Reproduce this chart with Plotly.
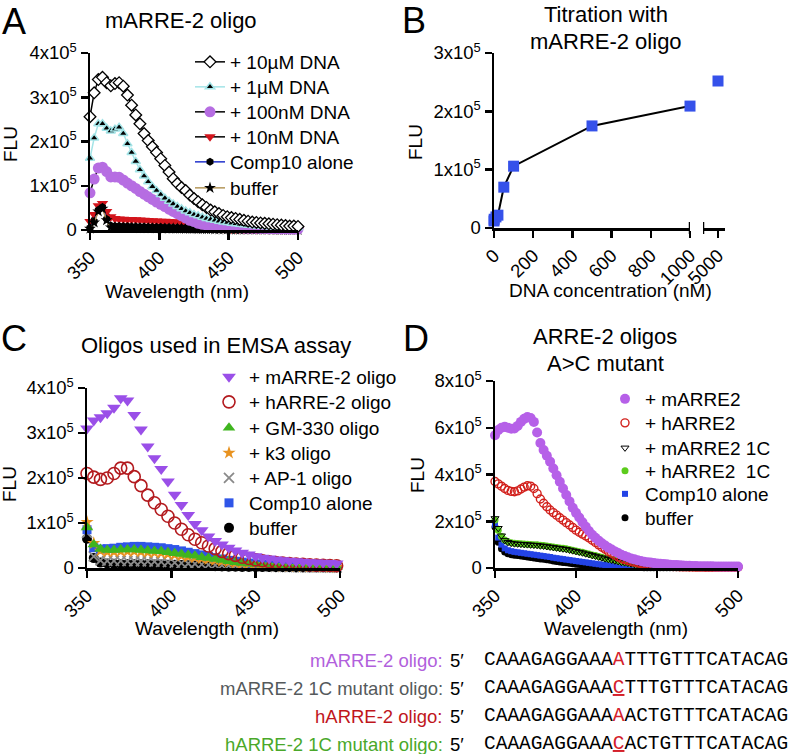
import plotly.graph_objects as go

W, H = 793, 754
FONT = "Liberation Sans, Arial, Helvetica, sans-serif"
MONO = "Liberation Mono, Courier New, Courier, monospace"

def fx(p):
    return p / W

def fy(p):
    return 1 - p / H

# ---------------- data (FLU in units of 1e5) ----------------
# Panel A: wavelength grid (nm)
WL_A = list(range(350, 501, 3))
A_10uM = [2.56, 3.10, 3.40, 3.45, 3.33, 3.26, 3.31, 3.33, 3.25, 3.05,
          2.82, 2.60, 2.40, 2.18, 2.02, 1.88, 1.75, 1.61, 1.46, 1.31,
          1.16, 1.05, 0.96, 0.89, 0.79, 0.71, 0.64, 0.57, 0.51, 0.45,
          0.41, 0.37, 0.33, 0.30, 0.28, 0.26, 0.24, 0.22, 0.20, 0.18,
          0.17, 0.16, 0.15, 0.14, 0.13, 0.12, 0.11, 0.10, 0.09, 0.09, 0.08]
A_1uM = [1.62, 2.08, 2.40, 2.40, 2.30, 2.24, 2.28, 2.32, 2.18, 1.95,
         1.75, 1.55, 1.36, 1.22, 1.09, 0.98, 0.89, 0.80, 0.72, 0.65,
         0.59, 0.53, 0.48, 0.43, 0.39, 0.35, 0.32, 0.29, 0.26, 0.24,
         0.22, 0.20, 0.18, 0.17, 0.15, 0.14, 0.13, 0.12, 0.11, 0.10,
         0.09, 0.085, 0.08, 0.075, 0.07, 0.065, 0.06, 0.06, 0.055, 0.05, 0.05]
A_100nM = [0.84, 1.15, 1.40, 1.42, 1.32, 1.20, 1.20, 1.19, 1.13, 1.06,
           1.00, 0.94, 0.87, 0.81, 0.75, 0.69, 0.63, 0.58, 0.53, 0.47,
           0.42, 0.37, 0.32, 0.27, 0.22, 0.19, 0.15, 0.13, 0.11, 0.10,
           0.09, 0.08, 0.07, 0.065, 0.06, 0.055, 0.05, 0.045, 0.04, 0.04,
           0.04, 0.035, 0.035, 0.03, 0.03, 0.03, 0.025, 0.025, 0.02, 0.02, 0.02]
A_10nM = [0.19, 0.35, 0.55, 0.60, 0.42, 0.30, 0.26, 0.25, 0.245, 0.24,
          0.235, 0.23, 0.225, 0.22, 0.215, 0.21, 0.205, 0.20, 0.195, 0.19,
          0.185, 0.18, 0.17, 0.16, 0.15, 0.13, 0.11, 0.09, 0.075, 0.06,
          0.05, 0.04, 0.035, 0.03, 0.025, 0.02, 0.02, 0.018, 0.016, 0.015,
          0.014, 0.013, 0.012, 0.012, 0.011, 0.011, 0.01, 0.01, 0.01, 0.01, 0.01]
A_comp10 = [0.05, 0.20, 0.45, 0.52, 0.25, 0.10, 0.09, 0.09, 0.085, 0.085,
            0.08, 0.08, 0.075, 0.075, 0.07, 0.07, 0.065, 0.065, 0.06, 0.06,
            0.055, 0.055, 0.05, 0.05, 0.045, 0.045, 0.04, 0.04, 0.035, 0.035,
            0.03, 0.03, 0.03, 0.025, 0.025, 0.025, 0.02, 0.02, 0.02, 0.02,
            0.02, 0.015, 0.015, 0.015, 0.015, 0.015, 0.01, 0.01, 0.01, 0.01, 0.01]
A_buffer = [0.03, 0.17, 0.42, 0.48, 0.22, 0.06, 0.05, 0.05, 0.05, 0.045,
            0.045, 0.045, 0.04, 0.04, 0.04, 0.04, 0.035, 0.035, 0.035, 0.03,
            0.03, 0.03, 0.03, 0.025, 0.025, 0.025, 0.02, 0.02, 0.02, 0.02,
            0.015, 0.015, 0.015, 0.015, 0.01, 0.01, 0.01, 0.01, 0.01, 0.01,
            0.01, 0.01, 0.01, 0.01, 0.005, 0.005, 0.005, 0.005, 0.005, 0.005, 0.005]

# Panel B: titration
B_conc = [0, 1, 10, 20, 50, 100, 500, 1000]
B_flu = [0.12, 0.15, 0.19, 0.22, 0.70, 1.06, 1.75, 2.09]
B_conc_hi = [5000]
B_flu_hi = [2.52]

# Panel C
WL_C = list(range(350, 499, 4))
C_mARRE = [3.10, 3.28, 3.35, 3.44, 3.56, 3.77, 3.72, 3.40, 3.08, 2.70,
           2.44, 2.20, 1.92, 1.63, 1.40, 1.18, 0.98, 0.84, 0.70, 0.60,
           0.52, 0.45, 0.39, 0.34, 0.30, 0.26, 0.23, 0.21, 0.19, 0.17,
           0.16, 0.15, 0.14, 0.13, 0.12, 0.115, 0.11, 0.10]
C_hARRE = [2.10, 2.02, 1.97, 2.00, 2.10, 2.22, 2.22, 2.03, 1.83, 1.62,
           1.45, 1.30, 1.15, 1.00, 0.86, 0.74, 0.64, 0.56, 0.49, 0.43,
           0.37, 0.32, 0.28, 0.24, 0.21, 0.18, 0.16, 0.14, 0.12, 0.11,
           0.10, 0.09, 0.08, 0.07, 0.065, 0.06, 0.055, 0.05]
C_GM330 = [0.90, 0.52, 0.42, 0.40, 0.40, 0.41, 0.41, 0.41, 0.40, 0.39,
           0.38, 0.37, 0.35, 0.33, 0.31, 0.29, 0.27, 0.24, 0.22, 0.20,
           0.18, 0.15, 0.13, 0.11, 0.10, 0.09, 0.08, 0.07, 0.06, 0.05,
           0.045, 0.04, 0.035, 0.03, 0.03, 0.025, 0.025, 0.02]
C_k3 = [1.02, 0.55, 0.38, 0.36, 0.36, 0.37, 0.37, 0.37, 0.36, 0.35,
        0.34, 0.33, 0.31, 0.29, 0.27, 0.25, 0.23, 0.21, 0.19, 0.17,
        0.15, 0.13, 0.11, 0.10, 0.09, 0.08, 0.07, 0.06, 0.05, 0.045,
        0.04, 0.035, 0.03, 0.03, 0.025, 0.025, 0.02, 0.02]
C_AP1 = [0.78, 0.26, 0.17, 0.16, 0.16, 0.16, 0.155, 0.15, 0.15, 0.145,
         0.14, 0.135, 0.13, 0.12, 0.11, 0.10, 0.09, 0.08, 0.07, 0.065,
         0.06, 0.055, 0.05, 0.045, 0.04, 0.035, 0.03, 0.03, 0.025, 0.025,
         0.02, 0.02, 0.02, 0.015, 0.015, 0.015, 0.01, 0.01]
C_comp10 = [0.85, 0.45, 0.42, 0.43, 0.44, 0.46, 0.47, 0.48, 0.48, 0.47,
            0.46, 0.45, 0.43, 0.41, 0.38, 0.35, 0.32, 0.29, 0.26, 0.23,
            0.20, 0.17, 0.15, 0.13, 0.11, 0.09, 0.08, 0.07, 0.06, 0.05,
            0.045, 0.04, 0.035, 0.03, 0.03, 0.025, 0.025, 0.02]
C_buffer = [0.65, 0.22, 0.12, 0.10, 0.095, 0.09, 0.09, 0.09, 0.085, 0.085,
            0.08, 0.08, 0.075, 0.07, 0.065, 0.06, 0.055, 0.05, 0.045, 0.04,
            0.035, 0.03, 0.03, 0.025, 0.025, 0.02, 0.02, 0.02, 0.015, 0.015,
            0.015, 0.01, 0.01, 0.01, 0.01, 0.01, 0.01, 0.01]

# Panel D
WL_D = list(range(350, 501, 2))
D_mARRE2 = [5.68, 5.90, 6.00, 6.04, 6.00, 5.96, 5.97, 6.08, 6.25, 6.38,
            6.46, 6.42, 6.25, 5.80, 5.35, 5.05, 4.80, 4.55, 4.26, 3.97,
            3.69, 3.40, 3.12, 2.85, 2.58, 2.36, 2.16, 1.96, 1.77, 1.58,
            1.42, 1.29, 1.17, 1.06, 0.96, 0.87, 0.79, 0.71, 0.64, 0.57,
            0.51, 0.46, 0.41, 0.37, 0.33, 0.30, 0.27, 0.25, 0.23, 0.21,
            0.19, 0.18, 0.17, 0.16, 0.14, 0.13, 0.125, 0.12, 0.11, 0.10,
            0.095, 0.09, 0.085, 0.08, 0.08, 0.075, 0.07, 0.07, 0.065, 0.065,
            0.06, 0.06, 0.06, 0.06, 0.06, 0.06]
D_hARRE2 = [3.70, 3.60, 3.50, 3.40, 3.32, 3.28, 3.26, 3.30, 3.38, 3.46,
            3.52, 3.50, 3.40, 3.18, 2.95, 2.77, 2.62, 2.48, 2.37, 2.26,
            2.15, 2.05, 1.94, 1.84, 1.73, 1.62, 1.53, 1.45, 1.37, 1.29,
            1.19, 1.09, 0.99, 0.89, 0.80, 0.71, 0.63, 0.55, 0.47, 0.40,
            0.36, 0.32, 0.28, 0.25, 0.22, 0.19, 0.17, 0.15, 0.13, 0.115,
            0.10, 0.09, 0.08, 0.075, 0.07, 0.065, 0.06, 0.055, 0.05, 0.05,
            0.045, 0.045, 0.04, 0.04, 0.04, 0.035, 0.035, 0.035, 0.035, 0.03,
            0.03, 0.03, 0.03, 0.03, 0.03, 0.03]
D_mARRE2_1C = [2.12, 1.70, 1.38, 1.18, 1.10, 1.06, 1.04, 1.03, 1.02, 1.01,
               1.00, 0.99, 0.98, 0.97, 0.95, 0.94, 0.92, 0.90, 0.88, 0.86,
               0.84, 0.82, 0.80, 0.77, 0.74, 0.71, 0.68, 0.65, 0.61, 0.58,
               0.54, 0.51, 0.47, 0.44, 0.40, 0.37, 0.34, 0.31, 0.28, 0.25,
               0.23, 0.21, 0.18, 0.16, 0.14, 0.12, 0.11, 0.095, 0.085, 0.075,
               0.065, 0.06, 0.055, 0.05, 0.048, 0.045, 0.043, 0.04, 0.038, 0.036,
               0.035, 0.033, 0.032, 0.03, 0.03, 0.028, 0.027, 0.026, 0.025, 0.024,
               0.023, 0.022, 0.021, 0.02, 0.02, 0.02]
D_hARRE2_1C = [2.05, 1.62, 1.35, 1.20, 1.12, 1.08, 1.06, 1.05, 1.04, 1.03,
               1.02, 1.01, 1.00, 0.99, 0.97, 0.96, 0.94, 0.92, 0.90, 0.88,
               0.86, 0.84, 0.82, 0.79, 0.76, 0.73, 0.70, 0.67, 0.63, 0.60,
               0.56, 0.53, 0.49, 0.46, 0.42, 0.39, 0.36, 0.33, 0.30, 0.27,
               0.24, 0.22, 0.19, 0.17, 0.15, 0.13, 0.12, 0.10, 0.09, 0.08,
               0.07, 0.065, 0.06, 0.055, 0.05, 0.05, 0.045, 0.045, 0.04, 0.04,
               0.04, 0.035, 0.035, 0.035, 0.03, 0.03, 0.03, 0.03, 0.03, 0.025,
               0.025, 0.025, 0.025, 0.025, 0.02, 0.02]
D_comp10 = [1.85, 1.30, 1.00, 0.84, 0.76, 0.72, 0.69, 0.67, 0.65, 0.63,
            0.61, 0.59, 0.57, 0.55, 0.53, 0.51, 0.49, 0.47, 0.44, 0.42,
            0.40, 0.38, 0.36, 0.34, 0.32, 0.30, 0.28, 0.26, 0.24, 0.22,
            0.20, 0.18, 0.16, 0.145, 0.13, 0.115, 0.10, 0.09, 0.08, 0.07,
            0.06, 0.055, 0.05, 0.045, 0.04, 0.035, 0.03, 0.03, 0.025, 0.025,
            0.02, 0.02, 0.02, 0.02, 0.02, 0.02, 0.02, 0.02, 0.02, 0.02,
            0.015, 0.015, 0.015, 0.015, 0.015, 0.015, 0.015, 0.015, 0.015, 0.015,
            0.015, 0.015, 0.015, 0.015, 0.015, 0.015]
D_buffer = [1.75, 1.10, 0.82, 0.68, 0.61, 0.57, 0.55, 0.53, 0.51, 0.49,
            0.47, 0.45, 0.43, 0.41, 0.39, 0.37, 0.35, 0.33, 0.30, 0.28,
            0.26, 0.24, 0.22, 0.20, 0.18, 0.16, 0.145, 0.13, 0.115, 0.10,
            0.09, 0.08, 0.07, 0.065, 0.06, 0.05, 0.045, 0.04, 0.035, 0.03,
            0.03, 0.025, 0.025, 0.02, 0.02, 0.02, 0.015, 0.015, 0.015, 0.015,
            0.01, 0.01, 0.01, 0.01, 0.01, 0.01, 0.01, 0.01, 0.01, 0.01,
            0.01, 0.01, 0.01, 0.01, 0.01, 0.01, 0.01, 0.01, 0.01, 0.01,
            0.01, 0.01, 0.01, 0.01, 0.01, 0.01]

# tick labels
WL_TICKS = [350, 400, 450, 500]
A_YTICKS = [0, 1, 2, 3, 4]
B_YTICKS = [0, 1, 2, 3]
B_XTICKS = [0, 200, 400, 600, 800, 1000]
D_YTICKS = [0, 2, 4, 6, 8]

def sci(v):
    return "0" if v == 0 else f"{v}x10<sup>5</sup>"

# sequences
SEQ_ROWS = [
    ("mARRE-2 oligo:", "#b160dc", "CAAAGAGGAAA", "A", "TTTGTTTCATACAG", False),
    ("mARRE-2 1C mutant oligo:", "#555a5c", "CAAAGAGGAAA", "C", "TTTGTTTCATACAG", True),
    ("hARRE-2 oligo:", "#c0161c", "CAAAGAGGAAA", "A", "ACTGTTTCATACAG", False),
    ("hARRE-2 1C mutant oligo:", "#4aa82a", "CAAAGAGGAAA", "C", "ACTGTTTCATACAG", True),
]

# ---------------- figure ----------------
fig = go.Figure()
legend_defs = {}

def legend_slot(x_text, y_center, size=19):
    n = len(legend_defs) + 1
    key = "legend" if n == 1 else f"legend{n}"
    legend_defs[key] = dict(
        x=fx(x_text - 40), y=fy(y_center), xanchor="left", yanchor="middle",
        bgcolor="rgba(0,0,0,0)", borderwidth=0,
        font=dict(family=FONT, size=size, color="black"),
        itemclick=False, itemdoubleclick=False)
    return key

# ---- Panel A ----
A_leg_x = 230
A_leg_y = [62, 87, 112, 137, 162, 188]
A_series = [
    ("+ 10nM DNA", A_10nM, "black", dict(symbol="triangle-down", size=10, color="#d3151c", line=dict(width=0)), 3),
    ("Comp10 alone", A_comp10, "#2233cc", dict(symbol="hexagon", size=8, color="black", line=dict(width=0)), 4),
    ("buffer", A_buffer, "#b4975a", dict(symbol="star", size=9, color="black", line=dict(width=0)), 5),
    ("+ 100nM DNA", A_100nM, "black", dict(symbol="circle", size=11, color="#b66de2", line=dict(width=0)), 2),
    ("+ 1µM DNA", A_1uM, "#a3e4e7", dict(symbol="triangle-up", size=8, color="black", line=dict(color="#a3e4e7", width=1.5)), 1),
    ("+ 10µM DNA", A_10uM, "black", dict(symbol="diamond", size=9, color="white", line=dict(color="black", width=1.3)), 0),
]
for name, ys, lc, mk, row in A_series:
    fig.add_trace(go.Scatter(
        x=WL_A, y=ys, name=name, mode="lines+markers",
        line=dict(color=lc, width=1.5), marker=mk, cliponaxis=False,
        xaxis="x", yaxis="y", legend=legend_slot(A_leg_x, A_leg_y[row])))

# ---- Panel B ----
fig.add_trace(go.Scatter(
    x=B_conc, y=B_flu, mode="lines+markers", showlegend=False,
    line=dict(color="black", width=2),
    marker=dict(symbol="square", size=11, color="#3551ea"),
    cliponaxis=False, xaxis="x2", yaxis="y2"))
fig.add_trace(go.Scatter(
    x=B_conc_hi, y=B_flu_hi, mode="markers", showlegend=False,
    marker=dict(symbol="square", size=11, color="#3551ea"),
    cliponaxis=False, xaxis="x3", yaxis="y2"))

# ---- Panel C ----
C_leg_x = 249
C_leg_y = [377, 402, 428, 453, 478, 503, 528]
C_series = [
    ("buffer", C_buffer, dict(symbol="circle", size=10, color="black"), 6),
    ("+ AP-1 oligo", C_AP1, dict(symbol="x-thin-open", size=10, color="#8a8a8a", line=dict(width=1.8, color="#8a8a8a")), 4),
    ("Comp10 alone", C_comp10, dict(symbol="square", size=9, color="#2f55e8"), 5),
    ("+ k3 oligo", C_k3, dict(symbol="star", size=10, color="#e8921f"), 3),
    ("+ GM-330 oligo", C_GM330, dict(symbol="triangle-up", size=11, color="#3fb51f"), 2),
    ("+ hARRE-2 oligo", C_hARRE, dict(symbol="circle-open", size=12, color="#b31a1e", line=dict(width=1.6)), 1),
    ("+ mARRE-2 oligo", C_mARRE, dict(symbol="triangle-down", size=12, color="#9a4fe8"), 0),
]
for name, ys, mk, row in C_series:
    fig.add_trace(go.Scatter(
        x=WL_C, y=ys, name=name, mode="markers", marker=mk, cliponaxis=False,
        xaxis="x4", yaxis="y3", legend=legend_slot(C_leg_x, C_leg_y[row])))

# ---- Panel D ----
D_leg_x = 645
D_leg_y = [399, 423, 448, 471, 494, 518]
D_series = [
    ("buffer", D_buffer, dict(symbol="circle", size=7, color="black"), 5),
    ("Comp10 alone", D_comp10, dict(symbol="square", size=6, color="#2343e6"), 4),
    ("+ hARRE2\u00a0 1C", D_hARRE2_1C, dict(symbol="circle", size=7, color="#5ccc1c"), 3),
    ("+ mARRE2 1C", D_mARRE2_1C, dict(symbol="triangle-down-open", size=7, color="black", line=dict(width=1)), 2),
    ("+ hARRE2", D_hARRE2, dict(symbol="circle-open", size=8, color="#d2201c", line=dict(width=1.4)), 1),
    ("+ mARRE2", D_mARRE2, dict(symbol="circle", size=10, color="#b660e8"), 0),
]
for name, ys, mk, row in D_series:
    fig.add_trace(go.Scatter(
        x=WL_D, y=ys, name=name, mode="markers", marker=mk, cliponaxis=False,
        xaxis="x5", yaxis="y4", legend=legend_slot(D_leg_x, D_leg_y[row])))

# ---------------- axes ----------------
axc = dict(showgrid=False, zeroline=False, showline=True, linecolor="black",
           linewidth=2.5, ticks="outside", ticklen=7, tickwidth=2.5,
           tickcolor="black", fixedrange=True, automargin=False,
           tickfont=dict(family=FONT, size=18.5, color="black"))

def xax(d0, d1, rng, tv, tt, anchor):
    return dict(axc, domain=[fx(d0), fx(d1)], range=rng, tickmode="array",
                tickvals=tv, ticktext=tt, tickangle=-45, anchor=anchor)

def yax(top, bottom, rng, tv, anchor):
    return dict(axc, domain=[fy(bottom), fy(top)], range=rng, tickmode="array",
                tickvals=tv, ticktext=[sci(v) for v in tv], anchor=anchor)

layout = dict(
    template="none",
    width=W, height=H, margin=dict(l=0, r=0, t=0, b=0, pad=0, autoexpand=False),
    autosize=False,
    paper_bgcolor="white", plot_bgcolor="white", showlegend=True,
    font=dict(family=FONT, size=19, color="black"),
    xaxis=xax(90, 298, [350, 500], WL_TICKS, [str(v) for v in WL_TICKS], "y"),
    yaxis=yax(53, 230, [0, 4], A_YTICKS, "x"),
    xaxis2=xax(494, 690, [0, 1000], B_XTICKS, [str(v) for v in B_XTICKS], "y2"),
    yaxis2=yax(53, 228, [0, 3], B_YTICKS, "x2"),
    xaxis3=xax(703, 725, [4318, 5318], B_conc_hi, [str(v) for v in B_conc_hi], "y2"),
    xaxis4=xax(87, 340, [350, 500], WL_TICKS, [str(v) for v in WL_TICKS], "y3"),
    yaxis3=yax(388, 568, [0, 4], A_YTICKS, "x4"),
    xaxis5=xax(495, 738, [350, 500], WL_TICKS, [str(v) for v in WL_TICKS], "y4"),
    yaxis4=yax(381, 568, [0, 8], D_YTICKS, "x5"),
)
layout.update(legend_defs)
fig.update_layout(**layout)

# axis break marks for panel B
for xr, xv in (("x2", 1000), ("x3", 4318)):
    fig.add_shape(type="line", xref=xr, yref="paper", x0=xv, x1=xv,
                  y0=fy(234), y1=fy(222), line=dict(color="black", width=2.5))

# ---------------- text ----------------
def ann(text, x, y, size=19, angle=0, xanchor="center", color="black", family=FONT, weight="normal"):
    fig.add_annotation(text=text, x=fx(x), y=fy(y), xref="paper", yref="paper",
                       showarrow=False, xanchor=xanchor, yanchor="middle",
                       textangle=angle, borderpad=0,
                       font=dict(family=family, size=size, color=color, weight=weight))

# panel letters
for letter, x, y in (("A", 14, 21), ("B", 414, 20), ("C", 14, 338), ("D", 416, 338)):
    ann(letter, x, y, size=36)

# titles
ann("mARRE-2 oligo", 181, 20, size=22)
ann("Titration with", 606, 14, size=22)
ann("mARRE-2 oligo", 606, 41, size=22)
ann("Oligos used in EMSA assay", 216, 345, size=22)
ann("ARRE-2 oligos", 605, 337, size=22)
ann("A>C mutant", 605, 363, size=22)

# axis titles
ann("FLU", 10, 144, angle=-90)
ann("FLU", 416, 142, angle=-90)
ann("FLU", 10, 484, angle=-90)
ann("FLU", 417, 475, angle=-90)
ann("Wavelength (nm)", 177, 291)
ann("DNA concentration (nM)", 610, 290)
ann("Wavelength (nm)", 207, 628)
ann("Wavelength (nm)", 616, 628)

# sequences
for i, (label, col, pre, mid, post, underline) in enumerate(SEQ_ROWS):
    y = 660 + 28 * i
    ann(label, 444, y, size=18.5, xanchor="right", color=col)
    ann("5\u2032", 449, y, size=18.5, xanchor="left")
    m = f"<u>{mid}</u>" if underline else mid
    seq = f"{pre}<span style='color:#d4202a'>{m}</span>{post}"
    ann(seq, 483, y, size=19.5, xanchor="left", family=MONO)

fig.write_html(
    "out.html",
    config=dict(displayModeBar=False, staticPlot=True),
    post_script=("document.body.style.margin='0px';"
                 "document.body.style.padding='0px';"
                 "document.documentElement.style.overflow='hidden';"),
)
